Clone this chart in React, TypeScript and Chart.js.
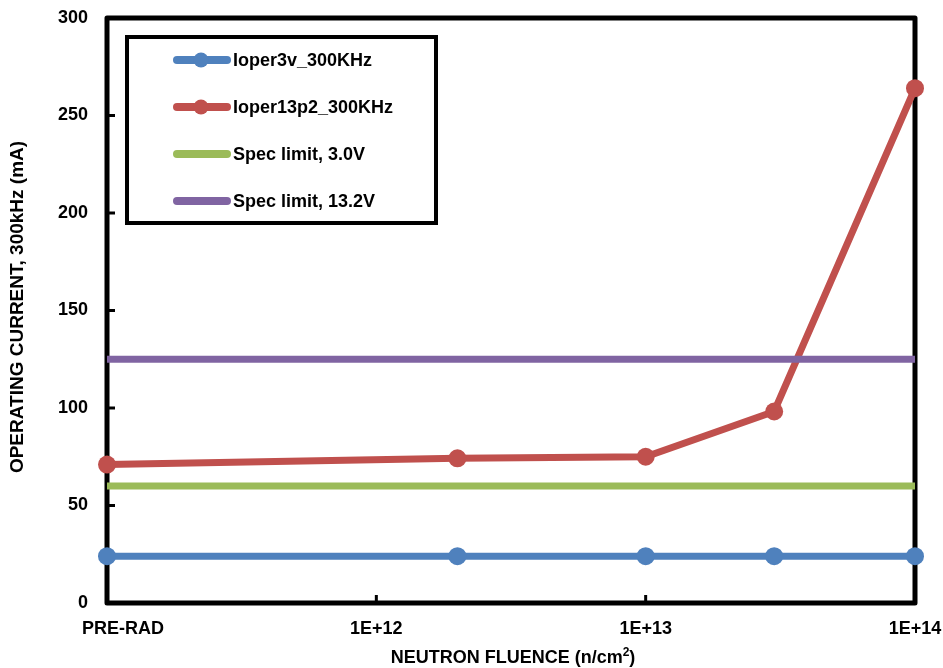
import React, { useEffect, useRef } from 'react';
import { Chart, registerables } from 'chart.js';

Chart.register(...registerables);

// ---- data ----
const fluence = [1e11, 2e12, 1e13, 3e13, 1e14];
const ioper3v = [24, 24, 24, 24, 24];
const ioper13p2 = [71, 74.2, 75, 98.2, 264];
const specFluence = [1e11, 1e14];
const spec3v = [60, 60];
const spec13p2 = [125, 125];
const xTickValues = [1e11, 1e12, 1e13, 1e14];
const xTickLabels = ['PRE-RAD', '1E+12', '1E+13', '1E+14'];
const yMin = 0;
const yMax = 300;
const yStep = 50;
const seriesNames = ['Ioper3v_300KHz', 'Ioper13p2_300KHz', 'Spec limit, 3.0V', 'Spec limit, 13.2V'];
const seriesColors = ['#4F81BD', '#C0504D', '#9BBB59', '#8064A2'];
const seriesMarkers = [true, true, false, false];
const xTitle = 'NEUTRON FLUENCE (n/cm';
const xTitleSup = '2';
const yTitle = 'OPERATING CURRENT, 300kHz (mA)';

const FONT = '"Liberation Sans", Arial, sans-serif';

const toPoints = (xs: number[], ys: number[]) => xs.map((x, i) => ({ x, y: ys[i] }));

const decorPlugin = {
  id: 'decor',
  beforeDatasetsDraw(chart: any) {
    const { ctx, chartArea, scales } = chart;
    const { left, top, right, bottom } = chartArea;
    ctx.save();
    ctx.strokeStyle = '#000';
    ctx.lineWidth = 3;
    for (let v = yMin + yStep; v < yMax; v += yStep) {
      const py = scales.y.getPixelForValue(v);
      ctx.beginPath();
      ctx.moveTo(left, py);
      ctx.lineTo(left + 8, py);
      ctx.stroke();
    }
    for (let i = 1; i < xTickValues.length - 1; i++) {
      const px = scales.x.getPixelForValue(xTickValues[i]);
      ctx.beginPath();
      ctx.moveTo(px, bottom);
      ctx.lineTo(px, bottom - 8);
      ctx.stroke();
    }
    ctx.lineWidth = 5;
    ctx.lineJoin = 'round';
    ctx.strokeRect(left, top, right - left, bottom - top);
    ctx.restore();
  },
  afterDraw(chart: any) {
    const { ctx, chartArea, scales } = chart;
    const { left, right, bottom } = chartArea;
    ctx.save();
    ctx.fillStyle = '#000';
    ctx.font = `bold 18px ${FONT}`;
    ctx.textBaseline = 'alphabetic';
    xTickLabels.forEach((lab, i) => {
      let px = scales.x.getPixelForValue(xTickValues[i]);
      if (i === 0) px += 16;
      ctx.textAlign = 'center';
      ctx.fillText(lab, px, bottom + 31);
    });
    ctx.font = `bold 18px ${FONT}`;
    const w1 = ctx.measureText(xTitle).width;
    ctx.font = `bold 12px ${FONT}`;
    const w2 = ctx.measureText(xTitleSup).width;
    ctx.font = `bold 18px ${FONT}`;
    const w3 = ctx.measureText(')').width;
    const total = w1 + w2 + w3;
    const cx = (left + right) / 2 + 2;
    let sx = cx - total / 2;
    const by = bottom + 60;
    ctx.textAlign = 'left';
    ctx.fillText(xTitle, sx, by);
    sx += w1;
    ctx.font = `bold 12px ${FONT}`;
    ctx.fillText(xTitleSup, sx, by - 7);
    sx += w2;
    ctx.font = `bold 18px ${FONT}`;
    ctx.fillText(')', sx, by);
    ctx.save();
    ctx.translate(18, 307);
    ctx.rotate(-Math.PI / 2);
    ctx.textAlign = 'center';
    ctx.textBaseline = 'middle';
    ctx.font = `bold 19px ${FONT}`;
    ctx.fillText(yTitle, 0, 0);
    ctx.restore();
    const bx = 127, byy = 37, bw = 309, bh = 186;
    ctx.fillStyle = '#fff';
    ctx.fillRect(bx, byy, bw, bh);
    ctx.strokeStyle = '#000';
    ctx.lineWidth = 4;
    ctx.strokeRect(bx, byy, bw, bh);
    const rows = [60, 107, 154, 201];
    seriesNames.forEach((name, i) => {
      const ry = rows[i];
      ctx.strokeStyle = seriesColors[i];
      ctx.lineWidth = 8;
      ctx.lineCap = 'round';
      ctx.beginPath();
      ctx.moveTo(177, ry);
      ctx.lineTo(227, ry);
      ctx.stroke();
      if (seriesMarkers[i]) {
        ctx.fillStyle = seriesColors[i];
        ctx.beginPath();
        ctx.arc(201, ry, 7.5, 0, Math.PI * 2);
        ctx.fill();
      }
      ctx.fillStyle = '#000';
      ctx.font = `bold 18px ${FONT}`;
      ctx.textAlign = 'left';
      ctx.textBaseline = 'middle';
      ctx.fillText(name, 233, ry + 1);
    });
    ctx.restore();
  },
};

export default function App() {
  const canvasRef = useRef<HTMLCanvasElement | null>(null);

  useEffect(() => {
    const canvas = canvasRef.current;
    if (!canvas) return;
    const lineDs = (i: number, xs: number[], ys: number[], order: number) => ({
      label: seriesNames[i],
      data: toPoints(xs, ys),
      borderColor: seriesColors[i],
      backgroundColor: seriesColors[i],
      borderWidth: 7,
      pointRadius: seriesMarkers[i] ? 9 : 0,
      pointBorderWidth: 0,
      pointBackgroundColor: seriesColors[i],
      tension: 0,
      order,
      clip: seriesMarkers[i] ? false : undefined,
    });
    const chart = new Chart(canvas, {
      type: 'line',
      data: {
        datasets: [
          lineDs(0, fluence, ioper3v, 3),
          lineDs(1, fluence, ioper13p2, 2),
          lineDs(2, specFluence, spec3v, 1),
          lineDs(3, specFluence, spec13p2, 0),
        ],
      },
      options: {
        responsive: false,
        animation: false,
        events: [],
        layout: { padding: { left: 0, top: 18, right: 28, bottom: 0 } },
        plugins: {
          legend: { display: false },
          tooltip: { enabled: false },
          title: { display: false },
        },
        scales: {
          x: {
            type: 'logarithmic',
            min: xTickValues[0],
            max: xTickValues[xTickValues.length - 1],
            ticks: { display: false },
            grid: { display: false, drawTicks: false },
            border: { display: false },
            afterFit: (scale: any) => {
              scale.height = 65;
              scale.paddingLeft = 0;
              scale.paddingRight = 0;
            },
          },
          y: {
            type: 'linear',
            min: yMin,
            max: yMax,
            ticks: {
              stepSize: yStep,
              padding: 19,
              color: '#000',
              font: { family: FONT, size: 18, weight: 'bold' },
            },
            grid: { display: false, drawTicks: false },
            border: { display: false },
            afterFit: (scale: any) => {
              scale.width = 107;
              scale.paddingTop = 0;
              scale.paddingBottom = 0;
            },
          },
        },
      },
      plugins: [decorPlugin],
    } as any);
    return () => chart.destroy();
  }, []);

  return (
    <div style={{ position: 'absolute', left: 0, top: 0, width: 943, height: 668, background: '#fff' }}>
      <canvas ref={canvasRef} width={943} height={668} style={{ display: 'block' }} />
    </div>
  );
}
